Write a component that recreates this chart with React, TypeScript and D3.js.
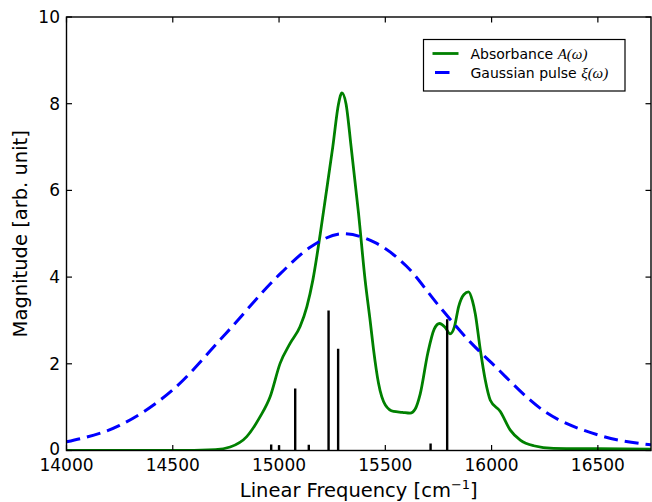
import React from "react";
import * as d3 from "d3";

const xTicks = [14000, 14500, 15000, 15500, 16000, 16500];
const yTicks = [0, 2, 4, 6, 8, 10];

const absorbanceX = [14000, 14500, 14700, 14770, 14848, 14911, 14958, 15005, 15052, 15099, 15131, 15159, 15194, 15217, 15253, 15280, 15296, 15315, 15339, 15374, 15405, 15429, 15444, 15468, 15500, 15539, 15580, 15617, 15640, 15664, 15700, 15730, 15755, 15780, 15805, 15825, 15845, 15870, 15892, 15910, 15923, 15947, 15970, 15994, 16041, 16088, 16135, 16198, 16292, 16500, 16750];
const absorbanceY = [0, 0, 0.02, 0.08, 0.32, 0.78, 1.24, 2.01, 2.47, 2.86, 3.32, 3.93, 5.0, 5.78, 7.01, 8.0, 8.25, 8.0, 7.01, 5.47, 3.93, 2.98, 2.35, 1.55, 1.05, 0.9, 0.88, 0.86, 0.95, 1.3, 2.25, 2.8, 2.93, 2.85, 2.69, 2.85, 3.32, 3.6, 3.66, 3.45, 3.16, 2.32, 1.63, 1.16, 0.9, 0.47, 0.24, 0.11, 0.05, 0.04, 0.03];

const pulseX = [14000, 14250, 14500, 14750, 15000, 15150, 15300, 15450, 15600, 15750, 15900, 16000, 16250, 16500, 16750];
const pulseY = [0.2, 0.58, 1.4, 2.7, 4.05, 4.7, 5.0, 4.8, 4.25, 3.35, 2.5, 2.02, 0.9, 0.36, 0.13];

const stickX = [14963, 15000, 15076, 15140, 15233, 15278, 15713, 15791];
const stickY = [0.14, 0.12, 1.43, 0.13, 3.23, 2.35, 0.16, 3.03];

const W = 652;
const H = 502;
const L = 66.5;
const R = 651;
const T = 17;
const B = 450.5;

export default function App() {
  const x = d3.scaleLinear().domain([14000, 16750]).range([L, R]);
  const y = d3.scaleLinear().domain([0, 10]).range([B, T]);

  const absData = absorbanceX.map((v, i) => [v, absorbanceY[i]] as [number, number]);
  const pulseData = pulseX.map((v, i) => [v, pulseY[i]] as [number, number]);

  const line = d3
    .line<[number, number]>()
    .x((d) => x(d[0]))
    .y((d) => y(d[1]))
    .curve(d3.curveMonotoneX);

  const font = "'DejaVu Sans', sans-serif";
  const tickLen = 5.5;
  const axisW = 1.4;

  return (
    <svg
      width={W}
      height={H}
      style={{ position: "absolute", left: 0, top: 0, background: "#fff" }}
      fontFamily={font}
    >
      <defs>
        <clipPath id="plotclip">
          <rect x={L} y={T} width={R - L} height={B - T} />
        </clipPath>
      </defs>
      <rect x={0} y={0} width={W} height={H} fill="#fff" />
      <g clipPath="url(#plotclip)">
        <path d={line(absData) || ""} fill="none" stroke="#008000" strokeWidth={2.8} />
        <path
          d={line(pulseData) || ""}
          fill="none"
          stroke="#0000ff"
          strokeWidth={3}
          strokeDasharray="14 7"
        />
        {stickX.map((v, i) => (
          <line
            key={i}
            x1={x(v)}
            x2={x(v)}
            y1={y(0)}
            y2={y(stickY[i])}
            stroke="#000"
            strokeWidth={2.4}
          />
        ))}
      </g>
      {/* spines */}
      <rect x={L} y={T} width={R - L} height={B - T} fill="none" stroke="#000" strokeWidth={axisW} />
      {/* x ticks */}
      {xTicks.map((t) => (
        <g key={"x" + t}>
          <line x1={x(t)} x2={x(t)} y1={B} y2={B - tickLen} stroke="#000" strokeWidth={1.2} />
          <line x1={x(t)} x2={x(t)} y1={T} y2={T + tickLen} stroke="#000" strokeWidth={1.2} />
          <text x={x(t)} y={470.5} textAnchor="middle" fontSize={17} fill="#000">
            {t}
          </text>
        </g>
      ))}
      {/* y ticks */}
      {yTicks.map((t) => (
        <g key={"y" + t}>
          <line x1={L} x2={L + tickLen} y1={y(t)} y2={y(t)} stroke="#000" strokeWidth={1.2} />
          <line x1={R} x2={R - tickLen} y1={y(t)} y2={y(t)} stroke="#000" strokeWidth={1.2} />
          <text x={L - 6.5} y={y(t) + (t === 0 ? 4.5 : 6)} textAnchor="end" fontSize={17} fill="#000">
            {t}
          </text>
        </g>
      ))}
      {/* axis labels */}
      <text x={(L + R) / 2} y={497} textAnchor="middle" fontSize={19.5} fill="#000">
        Linear Frequency [cm
        <tspan fontSize={13} dy={-8}>−1</tspan>
        <tspan dy={8}>]</tspan>
      </text>
      <text
        transform={`translate(27, ${(T + B) / 2}) rotate(-90)`}
        textAnchor="middle"
        fontSize={19.5}
        fill="#000"
      >
        Magnitude [arb. unit]
      </text>
      {/* legend */}
      <rect x={423.5} y={39.5} width={201.5} height={51.5} fill="#fff" stroke="#000" strokeWidth={1.2} />
      <line x1={432.5} x2={458.5} y1={53.5} y2={53.5} stroke="#008000" strokeWidth={2.8} />
      <line x1={435} x2={449.5} y1={72.5} y2={72.5} stroke="#0000ff" strokeWidth={3} />
      <text x={470.5} y={58.5} fontSize={14} fill="#000">
        Absorbance{" "}
        <tspan fontFamily="'Liberation Serif', serif" fontStyle="italic" fontSize={15}>
          A(ω)
        </tspan>
      </text>
      <text x={470.5} y={77.5} fontSize={14} fill="#000">
        Gaussian pulse{" "}
        <tspan fontFamily="'Liberation Serif', serif" fontStyle="italic" fontSize={15}>
          ξ(ω)
        </tspan>
      </text>
    </svg>
  );
}
